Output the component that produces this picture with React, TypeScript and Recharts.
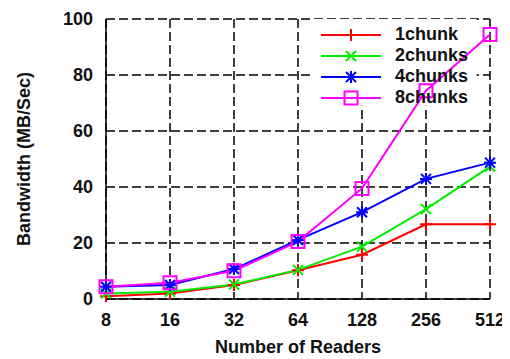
import React from 'react';
import { LineChart, Line, XAxis, YAxis, CartesianGrid, Legend, ReferenceArea } from 'recharts';

// x positions are indexes into readers; labels come from the array
const readers = ['8', '16', '32', '64', '128', '256', '512'];
const oneChunk = [1.0, 2.0, 5.0, 10.3, 15.8, 26.7, 26.7];
const twoChunks = [2.0, 2.6, 5.2, 10.4, 18.7, 32.1, 47.3];
const fourChunks = [4.4, 5.0, 10.7, 21.1, 31.0, 42.9, 48.7];
const eightChunks = [4.4, 5.8, 10.1, 20.5, 39.5, 74.4, 94.5];
const yTicks = [0, 20, 40, 60, 80, 100];

const data = readers.map((r, i) => ({
  idx: i,
  one: oneChunk[i],
  two: twoChunks[i],
  four: fourChunks[i],
  eight: eightChunks[i],
}));

const FONT = '"Liberation Sans", Arial, sans-serif';

type Marker = 'plus' | 'cross' | 'star' | 'square';

const markerPath = (m: Marker, cx: number, cy: number) => {
  const p = 6;
  const d = 5;
  const plus = `M${cx - p},${cy}L${cx + p},${cy}M${cx},${cy - p}L${cx},${cy + p}`;
  const cross = `M${cx - d},${cy - d}L${cx + d},${cy + d}M${cx - d},${cy + d}L${cx + d},${cy - d}`;
  if (m === 'plus') return plus;
  if (m === 'cross') return cross;
  if (m === 'star') return plus + cross;
  return `M${cx - 6.5},${cy - 6.5}h13v13h-13z`;
};

const makeDot = (m: Marker, color: string) => (props: any) => {
  const { cx, cy, index } = props;
  if (cx == null || cy == null) return <g key={`d-${index}`} />;
  return (
    <path key={`d-${m}-${index}`} d={markerPath(m, cx, cy)} stroke={color} strokeWidth={2} fill="none" />
  );
};

const series = [
  { key: 'one', name: '1chunk', color: '#ff0000', marker: 'plus' as Marker },
  { key: 'two', name: '2chunks', color: '#00ee00', marker: 'cross' as Marker },
  { key: 'four', name: '4chunks', color: '#0000ff', marker: 'star' as Marker },
  { key: 'eight', name: '8chunks', color: '#ff00ff', marker: 'square' as Marker },
];

const LegendBox = () => (
  <div style={{ fontFamily: FONT, fontWeight: 'bold', fontSize: 18, color: '#111', width: 170 }}>
    {series.map((s) => (
      <div key={s.key} style={{ display: 'flex', alignItems: 'center', height: 21 }}>
        <svg width={60} height={18} style={{ marginRight: 14, flexShrink: 0 }}>
          <line x1={0} y1={9} x2={60} y2={9} stroke={s.color} strokeWidth={2} />
          <path d={markerPath(s.marker, 30, 9)} stroke={s.color} strokeWidth={2} fill="none" />
        </svg>
        <span style={{ whiteSpace: 'nowrap' }}>{s.name}</span>
      </div>
    ))}
  </div>
);

const tickStyle = { fontFamily: FONT, fontWeight: 'bold', fontSize: 18, fill: '#111' };

export default function App() {
  return (
    <LineChart width={502} height={351} data={data} margin={{ top: 11, right: 20, left: 8, bottom: 0 }}>
      <CartesianGrid stroke="#000" strokeDasharray="9 4" strokeWidth={1.5} />
      <ReferenceArea x1={3.19} x2={5.79} y1={69} y2={100} fill="#fff" fillOpacity={1} stroke="none" />
      <XAxis
        dataKey="idx"
        type="number"
        domain={[0, 6]}
        ticks={readers.map((_, i) => i)}
        tickFormatter={(v: number) => readers[v]}
        tickLine={false}
        tickMargin={8}
        axisLine={{ stroke: '#000', strokeWidth: 1.5 }}
        tick={tickStyle}
        height={60}
        label={{ value: 'Number of Readers', position: 'insideBottom', offset: 6, style: { ...tickStyle, textAnchor: 'middle' } }}
      />
      <XAxis xAxisId="top" orientation="top" type="number" domain={[0, 6]} height={0} tick={false} tickLine={false} axisLine={{ stroke: '#000', strokeWidth: 1.5 }} />
      <YAxis
        domain={[0, 100]}
        ticks={yTicks}
        tickLine={false}
        tickMargin={7}
        axisLine={{ stroke: '#000', strokeWidth: 1.5 }}
        tick={tickStyle}
        width={90}
        label={{ value: 'Bandwidth (MB/Sec)', angle: -90, position: 'insideLeft', offset: 8, style: { ...tickStyle, textAnchor: 'middle' } }}
      />
      <YAxis yAxisId="right" orientation="right" domain={[0, 100]} width={0} tick={false} tickLine={false} axisLine={{ stroke: '#000', strokeWidth: 1.5 }} />
      <Legend
        layout="vertical"
        align="center"
        verticalAlign="middle"
        content={<LegendBox />}
        wrapperStyle={{ left: 313, top: 16, width: 170 }}
      />
      {series.map((s) => (
        <Line
          key={s.key}
          dataKey={s.key}
          name={s.name}
          stroke={s.color}
          strokeWidth={2}
          dot={makeDot(s.marker, s.color)}
          activeDot={false}
          isAnimationActive={false}
        />
      ))}
    </LineChart>
  );
}
